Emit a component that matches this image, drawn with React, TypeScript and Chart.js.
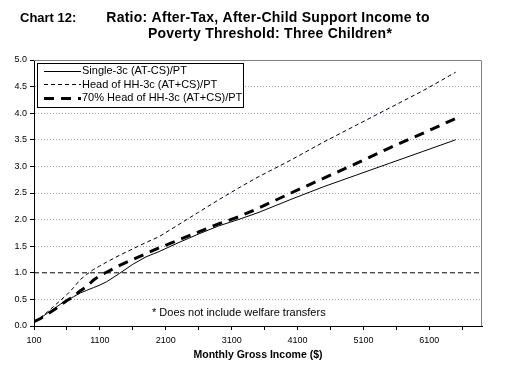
import React, { useEffect, useRef } from 'react';
import { Chart, registerables } from 'chart.js';

Chart.register(...registerables);

// Monthly gross income ($)
const incomes = [100, 200, 300, 400, 500, 600, 700, 800, 900, 1000, 1100, 1200, 1400, 1600, 1800, 2000, 2300, 2600, 2900, 3200, 3500, 4000, 4500, 5000, 5500, 6000, 6500];
// Ratio series
const single3c = [0.08, 0.15, 0.24, 0.32, 0.41, 0.48, 0.55, 0.62, 0.67, 0.72, 0.77, 0.83, 0.99, 1.16, 1.30, 1.40, 1.57, 1.73, 1.88, 2.00, 2.13, 2.38, 2.62, 2.84, 3.06, 3.28, 3.50];
const headHH3c = [0.08, 0.16, 0.26, 0.37, 0.48, 0.59, 0.72, 0.87, 0.97, 1.06, 1.13, 1.20, 1.33, 1.45, 1.57, 1.68, 1.91, 2.14, 2.37, 2.59, 2.80, 3.12, 3.46, 3.78, 4.10, 4.42, 4.77];
const headHH70 = [0.08, 0.14, 0.22, 0.30, 0.39, 0.48, 0.55, 0.66, 0.74, 0.86, 0.95, 1.01, 1.14, 1.25, 1.36, 1.47, 1.62, 1.77, 1.92, 2.05, 2.21, 2.50, 2.78, 3.06, 3.35, 3.62, 3.90];
// Poverty threshold reference line
const thresholdX = [100, 6900];
const thresholdY = [1, 1];

const seriesLabels = ['Single-3c (AT-CS)/PT', 'Head of HH-3c (AT+CS)/PT', '70% Head of HH-3c (AT+CS)/PT'];
const xTickValues = [100, 600, 1100, 1600, 2100, 2600, 3100, 3600, 4100, 4600, 5100, 5600, 6100, 6600];
const xLabelValues = [100, 1100, 2100, 3100, 4100, 5100, 6100];

const titleLabel = 'Chart 12:';
const titleLines = ['Ratio: After-Tax, After-Child Support Income to', 'Poverty Threshold: Three Children*'];
const noteText = '* Does not include welfare transfers';
const xAxisTitle = 'Monthly Gross Income ($)';

const FONT = 'Arial, "Liberation Sans", sans-serif';

const toPoints = (xs: number[], ys: number[]) => xs.map((x, i) => ({ x, y: ys[i] }));

const decorPlugin = {
  id: 'decor',
  beforeDatasetsDraw(chart: any) {
    const { ctx, chartArea: a } = chart;
    ctx.save();
    ctx.strokeStyle = '#808080';
    ctx.lineWidth = 1;
    ctx.beginPath();
    ctx.moveTo(a.left, a.top + 0.5);
    ctx.lineTo(a.right - 0.5, a.top + 0.5);
    ctx.lineTo(a.right - 0.5, a.bottom);
    ctx.stroke();
    ctx.restore();
  },
  afterDraw(chart: any) {
    const { ctx } = chart;
    ctx.save();
    // Titles
    ctx.fillStyle = '#000';
    ctx.textBaseline = 'middle';
    ctx.font = `bold 13px ${FONT}`;
    ctx.textAlign = 'left';
    ctx.fillText(titleLabel, 20, 18);
    ctx.font = `bold 14px ${FONT}`;
    (ctx as any).letterSpacing = '0.25px';
    ctx.textAlign = 'center';
    ctx.fillText(titleLines[0], 268, 18);
    ctx.fillText(titleLines[1], 270, 34);
    (ctx as any).letterSpacing = '0px';

    // Legend
    const bx = 37.5, by = 63.5, bw = 206, bh = 44;
    ctx.fillStyle = '#fff';
    ctx.fillRect(bx, by, bw, bh);
    ctx.strokeStyle = '#000';
    ctx.lineWidth = 1;
    ctx.setLineDash([]);
    ctx.strokeRect(bx, by, bw, bh);
    ctx.font = `11px ${FONT}`;
    ctx.textAlign = 'left';
    ctx.textBaseline = 'middle';
    const rows = [71, 84.5, 98];
    chart.data.datasets.slice(0, 3).forEach((ds: any, i: number) => {
      const y = rows[i];
      ctx.save();
      ctx.strokeStyle = ds.borderColor;
      ctx.lineWidth = ds.borderWidth;
      ctx.setLineDash(ds.borderDash || []);
      ctx.beginPath();
      const yy = ds.borderWidth % 2 === 1 ? Math.floor(y) + 0.5 : Math.round(y);
      ctx.moveTo(44, yy);
      ctx.lineTo(81, yy);
      ctx.stroke();
      ctx.restore();
      ctx.fillStyle = '#000';
      ctx.fillText(ds.label, 82, y);
    });

    // Note
    ctx.font = `11px ${FONT}`;
    ctx.fillText(noteText, 152, 313);
    ctx.restore();
  },
};

export default function App() {
  const ref = useRef<HTMLCanvasElement | null>(null);
  useEffect(() => {
    document.body.style.margin = '0';
    const canvas = ref.current!;
    const chart = new Chart(canvas, {
      type: 'line',
      data: {
        datasets: [
          {
            label: seriesLabels[0],
            data: toPoints(incomes, single3c),
            borderColor: '#000',
            borderWidth: 1,
            borderDash: [],
            pointRadius: 0,
            fill: false,
            tension: 0,
          },
          {
            label: seriesLabels[1],
            data: toPoints(incomes, headHH3c),
            borderColor: '#000',
            borderWidth: 1,
            borderDash: [4, 3],
            pointRadius: 0,
            fill: false,
            tension: 0,
          },
          {
            label: seriesLabels[2],
            data: toPoints(incomes, headHH70),
            borderColor: '#000',
            borderWidth: 3,
            borderDash: [10, 7],
            pointRadius: 0,
            fill: false,
            tension: 0,
          },
          {
            label: 'Poverty threshold',
            data: toPoints(thresholdX, thresholdY),
            borderColor: '#000',
            borderWidth: 1,
            borderDash: [5, 3],
            pointRadius: 0,
            fill: false,
            tension: 0,
          },
        ],
      },
      options: {
        animation: false,
        responsive: false,
        maintainAspectRatio: false,
        layout: { padding: { top: 60, right: 40, left: 0, bottom: 0 } },
        plugins: { legend: { display: false }, tooltip: { enabled: false }, title: { display: false } },
        scales: {
          x: {
            type: 'linear',
            min: 100,
            max: 6900,
            afterBuildTicks: (scale: any) => {
              scale.ticks = xTickValues.map((v) => ({ value: v }));
            },
            afterFit: (scale: any) => {
              scale.height = 41;
            },
            ticks: {
              autoSkip: false,
              maxRotation: 0,
              padding: 5,
              color: '#000',
              font: { family: FONT, size: 9 },
              callback: (v: any) => (xLabelValues.includes(Number(v)) ? String(v) : ''),
            },
            grid: { drawOnChartArea: false, drawTicks: true, tickLength: 4, tickColor: '#000', color: '#000' },
            border: { display: true, color: '#000', width: 1 },
            title: {
              display: true,
              text: xAxisTitle,
              color: '#000',
              font: { family: FONT, size: 10.5, weight: 'bold' },
              padding: { top: 0, bottom: 6 },
            },
          },
          y: {
            type: 'linear',
            min: 0,
            max: 5,
            afterFit: (scale: any) => {
              scale.width = 34;
            },
            ticks: {
              stepSize: 0.5,
              padding: 3,
              color: '#000',
              font: { family: FONT, size: 9 },
              callback: (v: any) => Number(v).toFixed(1),
            },
            grid: {
              drawTicks: true,
              tickLength: 4,
              tickColor: '#000',
              color: (c: any) => {
                const v = c.tick ? c.tick.value : 0;
                return v === 0 || v === 5 || v === 1 ? 'rgba(0,0,0,0)' : '#9c9ce0';
              },
            },
            border: { display: true, color: '#000', width: 1, dash: [1, 2] },
          },
        },
      },
      plugins: [decorPlugin],
    } as any);
    return () => chart.destroy();
  }, []);
  return <canvas ref={ref} width={522} height={367} style={{ display: 'block' }} />;
}
